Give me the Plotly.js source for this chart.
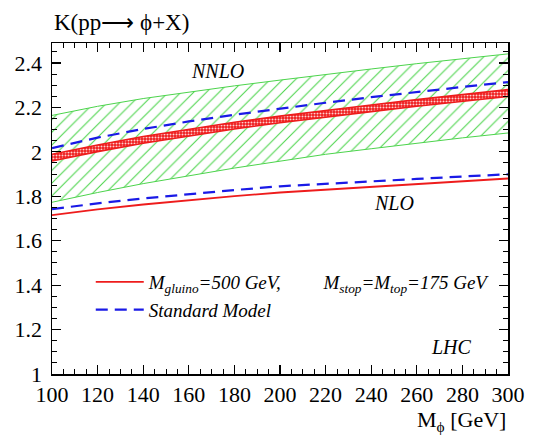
<!DOCTYPE html>
<html>
<head>
<meta charset="utf-8">
<script src="https://cdn.plot.ly/plotly-3.0.1.min.js"></script>
<style>html,body{margin:0;padding:0;background:#fff;}#chart{width:533px;height:441px;}</style>
</head>
<body>
<div id="chart"></div>
<script>
// Higgs mass (GeV)
var massGeV = [100, 120, 140, 160, 180, 200, 220, 240, 260, 280, 300];

// NNLO scale-uncertainty band (green hatched)
var nnloBandUpper = [2.164, 2.205, 2.240, 2.270, 2.297, 2.323, 2.349, 2.373, 2.397, 2.420, 2.441];
var nnloBandLower = [1.773, 1.817, 1.857, 1.892, 1.927, 1.958, 1.989, 2.014, 2.039, 2.063, 2.085];

// NNLO: Standard Model (blue dashed)
var nnloSM = [2.017, 2.064, 2.103, 2.137, 2.167, 2.195, 2.221, 2.246, 2.270, 2.292, 2.314];

// NNLO: SUSY (red band)
var nnloSusyUpper = [1.989, 2.031, 2.069, 2.102, 2.133, 2.161, 2.187, 2.211, 2.235, 2.257, 2.280];
var nnloSusyLower = [1.959, 2.001, 2.039, 2.072, 2.103, 2.131, 2.157, 2.181, 2.205, 2.227, 2.249];

// NLO curves
var nloSM   = [1.742, 1.768, 1.790, 1.810, 1.828, 1.845, 1.857, 1.867, 1.878, 1.889, 1.899];
var nloSusy = [1.715, 1.741, 1.763, 1.783, 1.801, 1.817, 1.830, 1.842, 1.855, 1.868, 1.880];

// Axis ticks
var xTicks = [100, 120, 140, 160, 180, 200, 220, 240, 260, 280, 300];
var yTicks = [1, 1.2, 1.4, 1.6, 1.8, 2, 2.2, 2.4];

var serif = 'Liberation Serif';
var green = '#4cd44c';
var red = '#ee1c1c';
var blue = '#1a1ae6';

var traces = [
  {x: massGeV, y: nnloBandLower, mode: 'lines', line: {color: green, width: 1}, showlegend: false, hoverinfo: 'skip'},
  {x: massGeV, y: nnloBandUpper, mode: 'lines', line: {color: green, width: 1}, fill: 'tonexty',
   fillcolor: 'rgba(0,0,0,0)',
   fillpattern: {shape: '/', fgcolor: green, bgcolor: 'rgba(0,0,0,0)', size: 9, solidity: 0.12},
   showlegend: false, hoverinfo: 'skip'},
  {x: massGeV, y: nnloSM, mode: 'lines', line: {color: blue, width: 2.2, dash: '12px,7px'}, showlegend: false},
  {x: massGeV, y: nnloSusyLower, mode: 'lines', line: {color: red, width: 1.6}, showlegend: false, hoverinfo: 'skip'},
  {x: massGeV, y: nnloSusyUpper, mode: 'lines', line: {color: red, width: 1.6}, fill: 'tonexty',
   fillcolor: red,
   fillpattern: {shape: '.', fgcolor: '#ffd0d0', bgcolor: red, size: 3, solidity: 0.35},
   showlegend: false, hoverinfo: 'skip'},
  {x: massGeV, y: nloSusy, mode: 'lines', line: {color: red, width: 1.8},
   name: '<i>M<sub>gluino</sub>=500 GeV,</i>&nbsp;&nbsp;&nbsp;&nbsp;&nbsp;&nbsp;&nbsp;&nbsp;&nbsp;<i>M<sub>stop</sub>=M<sub>top</sub>=175 GeV</i>'},
  {x: massGeV, y: nloSM, mode: 'lines', line: {color: blue, width: 2.2, dash: '12px,7px'},
   name: '<i>Standard Model</i>'}
];

var axisCommon = {
  showline: true, linecolor: '#000', linewidth: 1.5, mirror: 'allticks',
  ticks: 'inside', ticklen: 9, tickwidth: 1.2, tickcolor: '#000',
  showgrid: false, zeroline: false,
  tickfont: {family: serif, size: 22, color: '#000'}
};

var layout = {
  width: 533, height: 441,
  margin: {l: 52, r: 25, t: 43, b: 67},
  paper_bgcolor: '#fff', plot_bgcolor: '#fff',
  font: {family: serif, color: '#000'},
  showlegend: true,
  legend: {x: 0.085, y: 0.335, xanchor: 'left', yanchor: 'top', bgcolor: 'rgba(0,0,0,0)',
           traceorder: 'normal', itemwidth: 48,
           font: {family: serif, size: 19, color: '#000'}, tracegroupgap: 0},
  xaxis: Object.assign({}, axisCommon, {
    range: [100, 300], tickvals: xTicks, ticktext: xTicks.map(String),
    minor: {ticks: 'inside', dtick: 5, ticklen: 5, tickcolor: '#000', tickwidth: 1, showgrid: false}
  }),
  yaxis: Object.assign({}, axisCommon, {
    range: [1, 2.49], tickvals: yTicks, ticktext: yTicks.map(String), ticklabelstandoff: 4,
    minor: {ticks: 'inside', dtick: 0.05, tick0: 1, ticklen: 5, tickcolor: '#000', tickwidth: 1, showgrid: false}
  }),
  annotations: [
    {text: 'K(pp\u27f6 \u03d5+X)', xref: 'paper', yref: 'paper', x: 0, y: 1, yshift: 6,
     xanchor: 'left', yanchor: 'bottom', showarrow: false, font: {family: serif, size: 23, color: '#000'}},
    {text: 'M<sub>\u03d5</sub> [GeV]', xref: 'paper', yref: 'paper', x: 1, y: 0, yshift: -31,
     xanchor: 'right', yanchor: 'top', showarrow: false, font: {family: serif, size: 22, color: '#000'}},
    {text: '<i>NNLO</i>', x: 172.8, y: 2.366, xref: 'x', yref: 'y', showarrow: false,
     font: {family: serif, size: 20, color: '#000'}},
    {text: '<i>NLO</i>', x: 250, y: 1.769, xref: 'x', yref: 'y', showarrow: false,
     font: {family: serif, size: 20, color: '#000'}},
    {text: '<i>LHC</i>', x: 275.4, y: 1.123, xref: 'x', yref: 'y', showarrow: false,
     font: {family: serif, size: 20, color: '#000'}}
  ]
};

Plotly.newPlot('chart', traces, layout, {displayModeBar: false, staticPlot: true});
</script>
</body>
</html>
